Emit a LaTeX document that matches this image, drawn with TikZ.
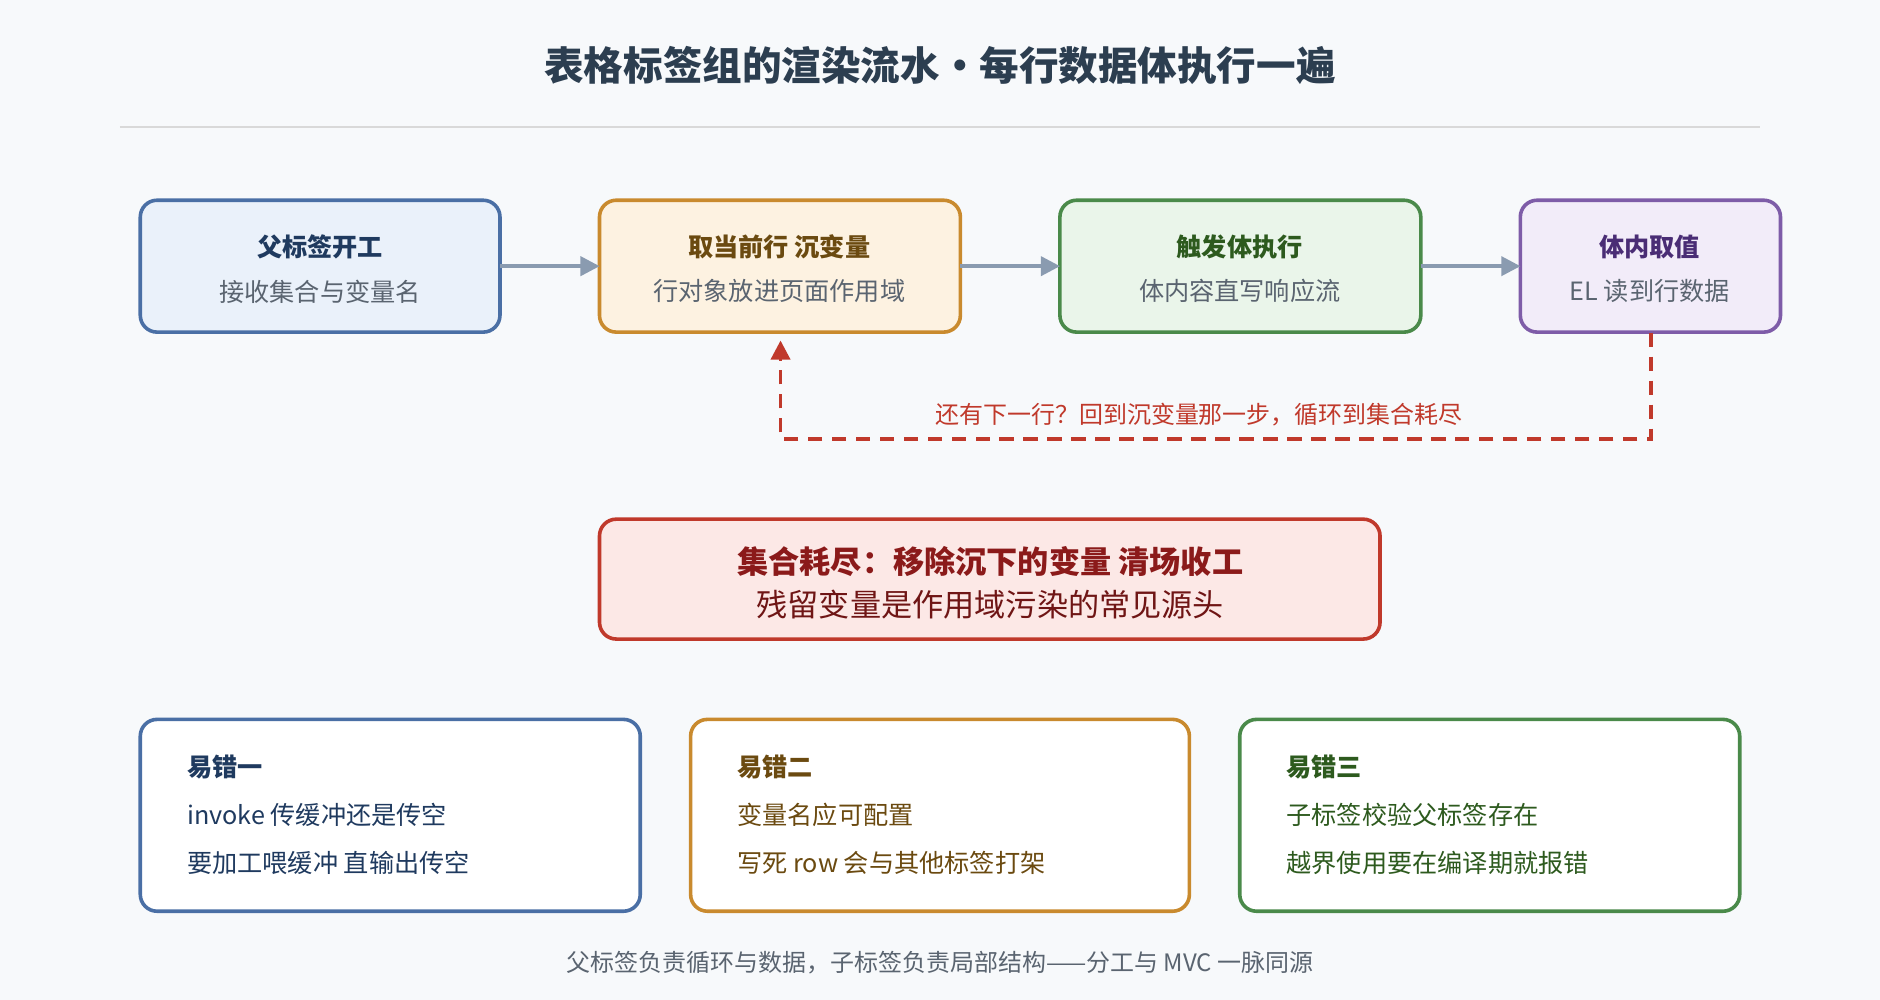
\documentclass[tikz,border=0pt]{standalone}
\usepackage{fontspec}
\setmainfont{Noto Sans CJK SC}
\usetikzlibrary{arrows.meta}
\definecolor{bg}{HTML}{F7F9FB}
\definecolor{ttl}{HTML}{2C3E50}
\definecolor{bB}{HTML}{4A6FA5}\definecolor{fB}{HTML}{EAF1FA}\definecolor{tB}{HTML}{1F3A5F}
\definecolor{bO}{HTML}{C98A2E}\definecolor{fO}{HTML}{FDF2E1}\definecolor{tO}{HTML}{6B4A10}
\definecolor{bG}{HTML}{4A8A4A}\definecolor{fG}{HTML}{EAF5EA}\definecolor{tG}{HTML}{2D5A1E}
\definecolor{bP}{HTML}{7E5CA8}\definecolor{fP}{HTML}{F2ECF9}\definecolor{tP}{HTML}{4A2D75}
\definecolor{bR}{HTML}{C0392B}\definecolor{fR}{HTML}{FCE8E6}\definecolor{tR}{HTML}{8B1A1A}
\definecolor{sub}{HTML}{5A6470}
\definecolor{arr}{HTML}{8A9BB0}
\begin{document}
\begin{tikzpicture}[x=0.5pt,y=-0.5pt,
 box/.style={draw,line width=1.5pt,rounded corners=7pt},
 flow/.style={-{Triangle[length=8pt,width=8pt]},arr,line width=1.5pt},
 hd/.style={font=\fontsize{10.5}{12}\selectfont\bfseries},
 st/.style={font=\fontsize{10.5}{12}\selectfont,text=sub},
 bt/.style={font=\fontsize{10.5}{12}\selectfont,anchor=west}]
\fill[bg] (0,0) rectangle (1568,834);
\useasboundingbox (0,0) rectangle (1568,834);
\node[text=ttl,font=\fontsize{16.5}{18}\selectfont\bfseries] (title) at (784,55) {表格标签组的渲染流水·每行数据体执行一遍};
\draw[black!15,line width=0.7pt] (100,106) -- (1468,106);
% top boxes
\draw[box,draw=bB,fill=fB] (117,167) rectangle (417,277);
\node (b1) at (267,222) [minimum width=150pt,minimum height=55pt] {};
\node[hd,text=tB] (b1t) at (267,206) {父标签开工};
\node[st] (b1s) at (267,243) {接收集合与变量名};
\draw[box,draw=bO,fill=fO] (500,167) rectangle (801,277);
\node (b2) at (650.5,222) [minimum width=150pt,minimum height=55pt] {};
\node[hd,text=tO] (b2t) at (650,206) {取当前行 沉变量};
\node[st] (b2s) at (650,243) {行对象放进页面作用域};
\draw[box,draw=bG,fill=fG] (884,167) rectangle (1185,277);
\node (b3) at (1034.5,222) [minimum width=150pt,minimum height=55pt] {};
\node[hd,text=tG] (b3t) at (1034,206) {触发体执行};
\node[st] (b3s) at (1034,243) {体内容直写响应流};
\draw[box,draw=bP,fill=fP] (1268,167) rectangle (1485,277);
\node (b4) at (1376.5,222) [minimum width=108pt,minimum height=55pt] {};
\node[hd,text=tP] (b4t) at (1376,206) {体内取值};
\node[st] (b4s) at (1376,243) {EL 读到行数据};
\draw[flow] (b1.east) -- (b2.west);
\draw[flow] (b2.east) -- (b3.west);
\draw[flow] (b3.east) -- (b4.west);
\coordinate (c1) at (1377,366);
\coordinate (c2) at (651,366);
\coordinate (c3) at (651,284);
\draw[bR,line width=1.5pt,dash pattern=on 6pt off 4pt] (b4.south -| 1377,0) -- (c1) -- (c2) -- (651,300);
\draw[-{Triangle[length=8pt,width=8pt]},bR,line width=1.5pt] (651,300) -- (c3);
\node[text=bR,font=\fontsize{10}{12}\selectfont] (loop) at (1000,346) {还有下一行？回到沉变量那一步，循环到集合耗尽};
% red box
\draw[box,draw=bR,fill=fR] (500,433) rectangle (1151,533);
\node[text=tR,font=\fontsize{13}{15}\selectfont\bfseries] (rt) at (826,468) {集合耗尽：移除沉下的变量 清场收工};
\node[text=tR!80!black,font=\fontsize{13}{15}\selectfont] (rs) at (826,504) {残留变量是作用域污染的常见源头};
% bottom boxes
\draw[box,draw=bB,fill=white] (117,600) rectangle (534,760);
\node[bt,text=tB,font=\fontsize{10.5}{12}\selectfont\bfseries] (e1) at (149,640) {易错一};
\node[bt,text=tB] (e1a) at (149,680) {invoke 传缓冲还是传空};
\node[bt,text=tB] (e1b) at (149,720) {要加工喂缓冲 直输出传空};
\draw[box,draw=bO,fill=white] (576,600) rectangle (992,760);
\node[bt,text=tO,font=\fontsize{10.5}{12}\selectfont\bfseries] (e2) at (608,640) {易错二};
\node[bt,text=tO] (e2a) at (608,680) {变量名应可配置};
\node[bt,text=tO] (e2b) at (608,720) {写死 row 会与其他标签打架};
\draw[box,draw=bG,fill=white] (1034,600) rectangle (1451,760);
\node[bt,text=tG,font=\fontsize{10.5}{12}\selectfont\bfseries] (e3) at (1066,640) {易错三};
\node[bt,text=tG] (e3a) at (1066,680) {子标签校验父标签存在};
\node[bt,text=tG] (e3b) at (1066,720) {越界使用要在编译期就报错};
\node[text=sub,font=\fontsize{10}{12}\selectfont] (foot) at (784,803) {父标签负责循环与数据，子标签负责局部结构——分工与 MVC 一脉同源};
\end{tikzpicture}
\end{document}
